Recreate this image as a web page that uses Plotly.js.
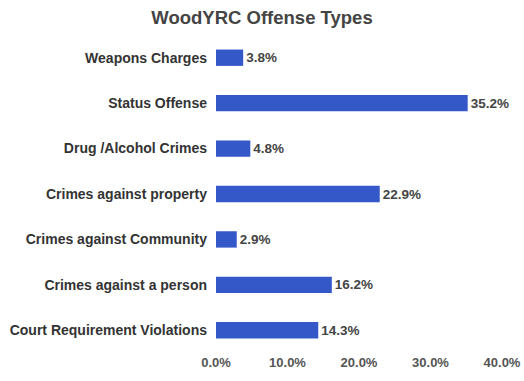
<!DOCTYPE html>
<html>
<head>
<meta charset="utf-8">
<script src="https://cdn.plot.ly/plotly-3.0.1.min.js"></script>
<style>html,body{margin:0;padding:0;background:#fff;}#chart{width:524px;height:381px;}</style>
</head>
<body>
<div id="chart"></div>
<script>
const categories = ["Weapons Charges","Status Offense","Drug /Alcohol Crimes","Crimes against property","Crimes against Community","Crimes against a person","Court Requirement Violations"];
const values = [3.8, 35.2, 4.8, 22.9, 2.9, 16.2, 14.3];
const tickVals = [0, 10, 20, 30, 40];
const tickText = ["0.0%","10.0%","20.0%","30.0%","40.0%"];

const fontFam = "Liberation Sans, Arial, sans-serif";
const trace = {
  type: "bar",
  orientation: "h",
  y: categories,
  x: values,
  text: values.map(v => v.toFixed(1) + "%"),
  textposition: "outside",
  cliponaxis: false,
  textfont: {family: fontFam, size: 13.5, color: "#444", weight: "bold"},
  marker: {color: "#3558c8"},
  hoverinfo: "none"
};
const layout = {
  width: 524, height: 381,
  margin: {l: 216, r: 22, t: 35, b: 28},
  paper_bgcolor: "#fff", plot_bgcolor: "#fff",
  title: {text: "WoodYRC Offense Types", x: 0.5, xanchor: "center", y: 0.955, yanchor: "middle",
          font: {family: fontFam, size: 18.5, color: "#444", weight: "bold"}},
  bargap: 0.64,
  showlegend: false,
  xaxis: {range: [0, 40], tickvals: tickVals, ticktext: tickText, showgrid: false, zeroline: false,
          showline: false, ticks: "", fixedrange: true,
          tickfont: {family: fontFam, size: 13, color: "#555", weight: "bold"}},
  yaxis: {autorange: "reversed", showgrid: false, zeroline: false, showline: false, ticks: "",
          ticklabelstandoff: 8,
          tickfont: {family: fontFam, size: 14, color: "#333", weight: "bold"}}
};
Plotly.newPlot("chart", [trace], layout, {displayModeBar: false, staticPlot: true});
</script>
</body>
</html>
